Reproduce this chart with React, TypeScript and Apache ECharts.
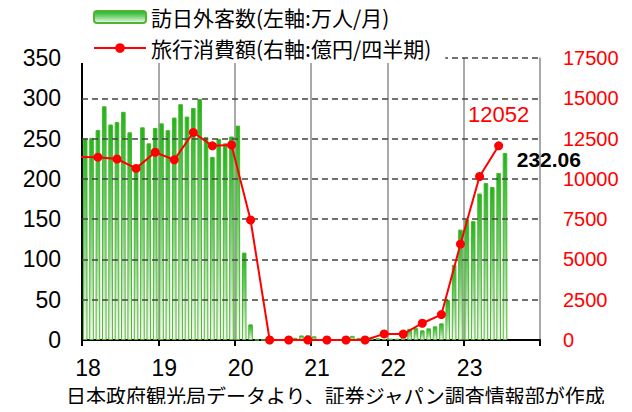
import React, { useEffect, useRef } from "react";
import * as echarts from "echarts";

// Monthly visitors to Japan (万人), Jan 2018 – Jul 2023
const visitors2018 = [250.2, 250.9, 260.8, 290.1, 267.5, 270.5, 283.2, 257.8, 215.9, 264.0, 244.1, 263.2];
const visitors2019 = [268.9, 260.4, 276.1, 292.7, 277.3, 288.0, 299.1, 252.0, 227.3, 249.7, 244.1, 252.6];
const visitors2020 = [266.1, 108.5, 19.4, 0.29, 0.17, 0.26, 0.39, 0.85, 1.37, 2.76, 5.66, 5.87];
const visitors2021 = [4.6, 0.74, 1.23, 1.09, 1.0, 0.95, 5.15, 2.56, 1.74, 2.22, 2.12, 1.22];
const visitors2022 = [1.74, 1.67, 6.62, 13.9, 14.7, 12.0, 14.5, 16.98, 20.7, 49.8, 93.4, 137.0];
const visitors2023 = [149.7, 147.5, 181.8, 194.9, 189.9, 207.3, 232.06];

// Quarterly travel spending (億円), 2017Q4 – 2023Q2
const spendQuarters = [
  "2017Q4",
  "2018Q1", "2018Q2", "2018Q3", "2018Q4",
  "2019Q1", "2019Q2", "2019Q3", "2019Q4",
  "2020Q1", "2020Q2", "2020Q3", "2020Q4",
  "2021Q1", "2021Q2", "2021Q3", "2021Q4",
  "2022Q1", "2022Q2", "2022Q3", "2022Q4",
  "2023Q1", "2023Q2",
];
const spendValues = [
  11350,
  11343, 11233, 10650, 11650,
  11180, 12880, 12050, 12100,
  7446, 0, 0, 0,
  0, 0, 0, 380,
  370, 1040, 1580, 5952,
  10146, 12052,
];

const yearLabels = ["18", "19", "20", "21", "22", "23", ""];
const legendBars = "訪日外客数(左軸:万人/月)";
const legendLine = "旅行消費額(右軸:億円/四半期)";
const sourceNote = "日本政府観光局データより、証券ジャパン調査情報部が作成";

const visitors = [
  ...visitors2018, ...visitors2019, ...visitors2020,
  ...visitors2021, ...visitors2022, ...visitors2023,
];

const quarterToMonthPos = (q: string) => {
  const y = parseInt(q.slice(0, 4), 10) - 2018;
  const qi = parseInt(q.slice(5), 10);
  return y * 12 + qi * 3 - 0.5;
};

const leftTicks = [50, 100, 150, 200, 250, 300, 350];
const yearBoundaries = [12, 24, 36, 48, 60];

export default function App() {
  const ref = useRef<HTMLDivElement>(null);
  useEffect(() => {
    if (!ref.current) return;
    const chart = echarts.init(ref.current, undefined, { renderer: "svg" });
    const numFont = "'Liberation Sans', Arial, sans-serif";
    const jpFont = "'Noto Sans CJK JP', sans-serif";
    const barGradient = new echarts.graphic.LinearGradient(0, 0, 0, 1, [
      { offset: 0, color: "#1db51d" },
      { offset: 0.45, color: "#74d074" },
      { offset: 1, color: "#f3fbf0" },
    ]);
    const barData = visitors.map((v, i) => {
      const item: any = { value: [i + 0.5, v] };
      if (i === visitors.length - 1) {
        item.label = {
          show: true,
          position: [14, -4],
          formatter: v.toFixed(2),
          fontFamily: numFont,
          fontWeight: "bold",
          fontSize: 21,
          color: "#000",
        };
      }
      return item;
    });
    const lineData = spendQuarters.map((q, i) => {
      const item: any = { value: [quarterToMonthPos(q), spendValues[i]] };
      if (i === spendQuarters.length - 1) {
        item.label = {
          show: true,
          position: "top",
          distance: 16,
          formatter: String(spendValues[i]),
          fontFamily: numFont,
          fontSize: 22,
          color: "#ff0000",
        };
      }
      return item;
    });
    chart.setOption({
      animation: false,
      backgroundColor: "#fff",
      textStyle: { fontFamily: jpFont },
      grid: { left: 82, right: 92, top: 58, bottom: 72, containLabel: false },
      legend: {
        orient: "vertical",
        left: 80,
        top: 0,
        padding: [5, 14, 3, 13],
        backgroundColor: "#fff",
        itemWidth: 52,
        itemHeight: 12,
        itemGap: 7,
        z: 6,
        textStyle: { fontFamily: jpFont, fontSize: 21, color: "#000", lineHeight: 24 },
        data: [legendBars, legendLine],
      },
      xAxis: {
        type: "value",
        min: 0,
        max: 72,
        interval: 12,
        axisLine: { show: true, lineStyle: { color: "#000", width: 2 } },
        axisTick: { show: true, length: 6, lineStyle: { color: "#000", width: 2 } },
        axisLabel: {
          margin: 18,
          padding: [0, 0, 0, 12],
          lineHeight: 20,
          fontFamily: numFont,
          fontSize: 23,
          color: "#000",
          formatter: (v: number) => yearLabels[Math.round(v / 12)] ?? "",
        },
        splitLine: { show: false },
      },
      yAxis: [
        {
          type: "value",
          min: 0,
          max: 350,
          interval: 50,
          axisLine: { show: true, lineStyle: { color: "#000", width: 2 } },
          axisTick: { show: false },
          axisLabel: { margin: 21, fontFamily: numFont, fontSize: 23, color: "#000" },
          splitLine: { show: false },
        },
        {
          type: "value",
          min: 0,
          max: 17500,
          interval: 2500,
          axisLine: { show: true, lineStyle: { color: "#8c8c8c", width: 1.5 } },
          axisTick: { show: false },
          axisLabel: {
            margin: 23,
            fontFamily: numFont,
            fontSize: 20,
            color: "#ff0000",
            formatter: (v: number) => String(v),
          },
          splitLine: { show: false },
        },
      ],
      series: [
        {
          name: legendBars,
          type: "bar",
          xAxisIndex: 0,
          yAxisIndex: 0,
          barWidth: 4.6,
          z: 2,
          itemStyle: { color: barGradient, borderColor: "#4fb52f", borderWidth: 1 },
          data: barData,
          markLine: {
            silent: true,
            symbol: "none",
            z: 3,
            animation: false,
            label: { show: false },
            lineStyle: { color: "#444", width: 1.5, type: [6, 4] },
            data: leftTicks.map((v) => ({ yAxis: v })),
          },
        },
        {
          name: "yearLines",
          type: "line",
          xAxisIndex: 0,
          yAxisIndex: 0,
          z: 1,
          data: [],
          markLine: {
            silent: true,
            symbol: "none",
            z: 1,
            animation: false,
            label: { show: false },
            lineStyle: { color: "#8c8c8c", width: 1.5, type: "solid" },
            data: yearBoundaries.map((v) => ({ xAxis: v })),
          },
        },
        {
          name: legendLine,
          type: "line",
          xAxisIndex: 0,
          yAxisIndex: 1,
          z: 10,
          clip: true,
          symbol: "circle",
          symbolSize: 9,
          showAllSymbol: true,
          lineStyle: { color: "#ff0000", width: 2 },
          itemStyle: { color: "#ff0000" },
          data: lineData,
        },
      ],
      graphic: [
        {
          type: "text",
          left: 66,
          top: 384,
          z: 20,
          style: { text: sourceNote, fontFamily: jpFont, fontSize: 20, lineHeight: 22, fill: "#000" },
        },
      ],
    });
    return () => chart.dispose();
  }, []);
  return <div ref={ref} style={{ width: 632, height: 412, margin: -8 }} />;
}
